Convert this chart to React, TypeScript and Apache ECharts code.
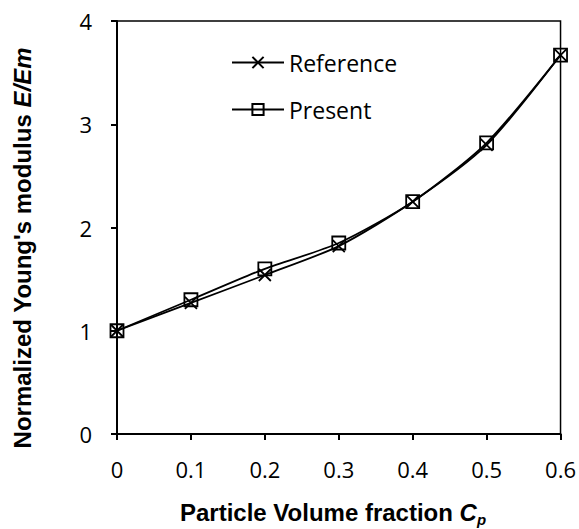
import React, { useEffect, useRef } from "react";
import * as echarts from "echarts";

const xValues = [0, 0.1, 0.2, 0.3, 0.4, 0.5, 0.6];
const referenceValues = [1.0, 1.27, 1.54, 1.82, 2.25, 2.8, 3.67];
const presentValues = [1.0, 1.3, 1.6, 1.85, 2.25, 2.82, 3.67];
const seriesNames = ["Reference", "Present"];

const CROSS = "path://M0,0L10,10M10,0L0,10";

const titleFont = { fontFamily: "Liberation Sans", fontWeight: "bold", fontSize: 24, fill: "#000" };

export default function App() {
  const ref = useRef<HTMLDivElement>(null);
  useEffect(() => {
    if (!ref.current) return;
    const chart = echarts.init(ref.current, null, { renderer: "svg" });
    const pairs = (ys: number[]) => xValues.map((x, i) => [x, ys[i]]);
    chart.setOption({
      animation: false,
      backgroundColor: "#fff",
      grid: {
        left: 117,
        right: 18,
        top: 21,
        bottom: 95,
        show: true,
        borderColor: "#000",
        borderWidth: 1.5,
        backgroundColor: "transparent",
      },
      legend: {
        orient: "vertical",
        left: 231,
        top: 51,
        padding: 0,
        itemWidth: 52,
        itemHeight: 14,
        itemGap: 24,
        data: seriesNames,
        textStyle: { fontFamily: "Open Sans", fontSize: 23, color: "#000" },
      },
      graphic: [
        {
          type: "text",
          x: 333,
          y: 512,
          style: {
            text: "{b|Particle Volume fraction }{i|C}{s|p}",
            align: "center",
            verticalAlign: "middle",
            rich: {
              b: { ...titleFont, lineHeight: 30 },
              i: { ...titleFont, fontStyle: "italic", lineHeight: 30 },
              s: { ...titleFont, fontStyle: "italic", fontSize: 15, lineHeight: 12, verticalAlign: "bottom" },
            },
          },
        },
        {
          type: "text",
          x: 22,
          y: 248,
          rotation: Math.PI / 2,
          style: {
            text: "{b|Normalized Young's modulus }{i|E/Em}",
            align: "center",
            verticalAlign: "middle",
            rich: {
              b: { ...titleFont },
              i: { ...titleFont, fontStyle: "italic" },
            },
          },
        },
      ],
      xAxis: {
        type: "value",
        min: 0,
        max: 0.6,
        interval: 0.1,
        splitLine: { show: false },
        axisLine: { lineStyle: { color: "#000", width: 2 } },
        axisTick: { inside: false, length: 6, lineStyle: { color: "#000", width: 2 } },
        axisLabel: { margin: 24, fontFamily: "Open Sans", fontSize: 22, color: "#000" },
      },
      yAxis: {
        type: "value",
        min: 0,
        max: 4,
        interval: 1,
        splitLine: { show: false },
        axisLine: { show: true, lineStyle: { color: "#000", width: 2 } },
        axisTick: { show: true, inside: false, length: 6, lineStyle: { color: "#000", width: 2 } },
        axisLabel: { margin: 25, fontFamily: "Open Sans", fontSize: 22, color: "#000" },
      },
      series: [
        {
          name: "Present",
          type: "line",
          data: pairs(presentValues),
          smooth: 0.25,
          symbol: "rect",
          symbolSize: 13,
          lineStyle: { color: "#000", width: 1.8 },
          itemStyle: { color: "transparent", borderColor: "#000", borderWidth: 1.8 },
          z: 2,
        },
        {
          name: "Reference",
          type: "line",
          data: pairs(referenceValues),
          smooth: 0.25,
          symbol: CROSS,
          symbolSize: 12,
          lineStyle: { color: "#000", width: 1.8 },
          itemStyle: { color: "transparent", borderColor: "#000", borderWidth: 1.8 },
          z: 3,
        },
      ],
    });
    return () => chart.dispose();
  }, []);
  return <div ref={ref} style={{ position: "fixed", left: 0, top: 0, width: 579, height: 529 }} />;
}
